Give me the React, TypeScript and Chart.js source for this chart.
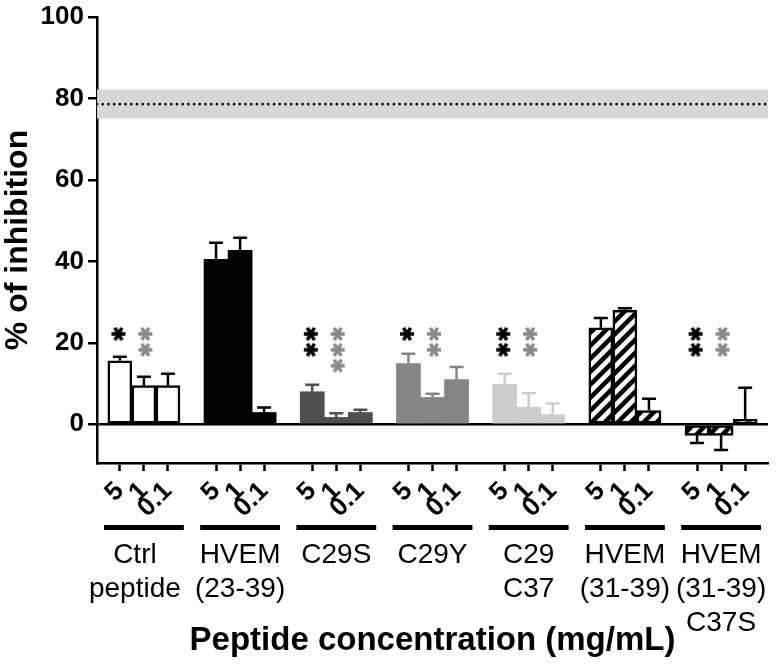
import React, { useEffect, useRef } from "react";
import { Chart, registerables } from "chart.js";
Chart.register(...registerables);

// ---------- data ----------
const groupLabels: string[][] = [
  ["Ctrl", "peptide"],
  ["HVEM", "(23-39)"],
  ["C29S"],
  ["C29Y"],
  ["C29", "C37"],
  ["HVEM", "(31-39)"],
  ["HVEM", "(31-39)", "C37S"],
];
const concLabels = ["5", "1", "0.1"];
const ctrlValues = [15.6, 9.5, 9.5];
const hvem2339Values = [40.5, 42.7, 2.9];
const c29sValues = [8.0, 1.7, 2.9];
const c29yValues = [14.9, 6.6, 11.0];
const c29c37Values = [9.8, 4.2, 2.4];
const hvem3139Values = [23.7, 28.0, 3.4];
const c37sValues = [-2.7, -2.7, 1.2];
const ctrlErr = [1.0, 2.2, 2.9];
const hvem2339Err = [4.1, 3.1, 1.2];
const c29sErr = [1.7, 1.0, 0.7];
const c29yErr = [2.4, 0.9, 3.1];
const c29c37Err = [2.6, 3.4, 2.7];
const hvem3139Err = [2.4, 0.5, 2.9];
const c37sErr = [1.9, 3.6, 7.8];
const blackStarCounts = [1, 0, 2, 1, 2, 0, 2];
const grayStarCounts = [2, 0, 3, 2, 2, 0, 2];
const starLevels = [22.2, 18.3, 14.4];
const refLow = 75.1;
const refHigh = 82.2;
const refMean = 78.6;
const yTickValues = [0, 20, 40, 60, 80, 100];

const allValues = [ctrlValues, hvem2339Values, c29sValues, c29yValues, c29c37Values, hvem3139Values, c37sValues];
const allErrors = [ctrlErr, hvem2339Err, c29sErr, c29yErr, c29c37Err, hvem3139Err, c37sErr];

// ---------- styles ----------
const FONT = "'Liberation Sans', Arial, sans-serif";
const X_MIN = -0.95;
const X_MAX = 26.95;
const SLOT = 4;

function makeHatch(): CanvasPattern | string {
  const s = 13;
  const c = document.createElement("canvas");
  c.width = s;
  c.height = s;
  const g = c.getContext("2d")!;
  g.fillStyle = "#fff";
  g.fillRect(0, 0, s, s);
  g.strokeStyle = "#000";
  g.lineWidth = 4.5;
  g.beginPath();
  for (const k of [0, s, 2 * s]) {
    g.moveTo(-2, k + 2);
    g.lineTo(k + 2, -2);
  }
  g.stroke();
  const p = g.createPattern(c, "repeat");
  return p || "#fff";
}

function makeStar(color: string): HTMLCanvasElement {
  const c = document.createElement("canvas");
  c.width = 16;
  c.height = 16;
  const g = c.getContext("2d")!;
  g.strokeStyle = color;
  g.lineWidth = 3.6;
  g.lineCap = "butt";
  for (let k = 0; k < 3; k++) {
    const a = (k * Math.PI) / 3;
    const dx = 7 * Math.cos(a);
    const dy = 7 * Math.sin(a);
    g.beginPath();
    g.moveTo(8 - dx, 8 - dy);
    g.lineTo(8 + dx, 8 + dy);
    g.stroke();
  }
  return c;
}

export default function App() {
  const ref = useRef<HTMLCanvasElement>(null);
  useEffect(() => {
    document.body.style.margin = "0";
    const hatch = makeHatch();
    const fills: any[] = ["#ffffff", "#000000", "#4f4f4f", "#858585", "#cdcdcd", hatch, hatch];
    const borders = ["#000", "#000", "#4f4f4f", "#858585", "#cdcdcd", "#000", "#000"];
    const borderWidths = [2.5, 0, 0, 0, 0, 2.5, 2.5];
    const errColors = ["#000", "#000", "#4f4f4f", "#858585", "#cdcdcd", "#000", "#000"];

    const barData: { x: number; y: number }[] = [];
    const barBg: any[] = [];
    const barBorder: string[] = [];
    const barBW: number[] = [];
    const flatErr: number[] = [];
    const flatErrColor: string[] = [];
    const positions: number[] = [];
    allValues.forEach((vals, g) => {
      vals.forEach((v, j) => {
        const x = g * SLOT + j;
        positions.push(x);
        barData.push({ x, y: v });
        barBg.push(fills[g]);
        barBorder.push(borders[g]);
        barBW.push(borderWidths[g]);
        flatErr.push(allErrors[g][j]);
        flatErrColor.push(errColors[g]);
      });
    });

    const blackStars: { x: number; y: number }[] = [];
    const grayStars: { x: number; y: number }[] = [];
    blackStarCounts.forEach((n, g) => {
      for (let k = 0; k < n; k++) blackStars.push({ x: g * SLOT - 0.06, y: starLevels[k] });
    });
    grayStarCounts.forEach((n, g) => {
      for (let k = 0; k < n; k++) grayStars.push({ x: g * SLOT + 1.06, y: starLevels[k] });
    });

    const errorBarPlugin = {
      id: "errorBars",
      afterDatasetsDraw(chart: any) {
        const meta = chart.getDatasetMeta(2);
        const ys = chart.scales.y;
        const ctx = chart.ctx;
        ctx.save();
        meta.data.forEach((bar: any, i: number) => {
          const v = barData[i].y;
          const e = flatErr[i];
          const end = v >= 0 ? v + e : v - e;
          const x = bar.x;
          const y0 = ys.getPixelForValue(v);
          const y1 = ys.getPixelForValue(end);
          ctx.strokeStyle = flatErrColor[i];
          ctx.lineWidth = 2.5;
          ctx.beginPath();
          ctx.moveTo(x, y0);
          ctx.lineTo(x, y1);
          ctx.moveTo(x - 7, y1);
          ctx.lineTo(x + 7, y1);
          ctx.stroke();
        });
        ctx.restore();
      },
    };

    const groupLabelPlugin = {
      id: "groupLabels",
      afterDraw(chart: any) {
        const xs = chart.scales.x;
        const ctx = chart.ctx;
        const bottom = chart.chartArea.bottom;
        ctx.save();
        groupLabels.forEach((lines, g) => {
          const cx = xs.getPixelForValue(g * SLOT + 1);
          const half = xs.getPixelForValue(1.66) - xs.getPixelForValue(0);
          ctx.fillStyle = "#000";
          ctx.fillRect(cx - half, bottom + 62, 2 * half, 5);
          ctx.font = `28px ${FONT}`;
          ctx.textAlign = "center";
          ctx.textBaseline = "alphabetic";
          const nudge = g === 0 ? -9 : 0;
          lines.forEach((t, k) => ctx.fillText(t, cx + nudge, bottom + 100 + k * 34));
        });
        ctx.restore();
      },
    };

    const chart = new Chart(ref.current!, {
      type: "bar",
      data: {
        datasets: [
          {
            type: "scatter",
            data: blackStars,
            pointStyle: makeStar("#000") as any,
            pointRadius: 7,
            order: 0,
          } as any,
          {
            type: "scatter",
            data: grayStars,
            pointStyle: makeStar("#8a8a8a") as any,
            pointRadius: 7,
            order: 0,
          } as any,
          {
            type: "bar",
            data: barData,
            backgroundColor: barBg,
            borderColor: barBorder,
            borderWidth: barBW,
            borderSkipped: false,
            barPercentage: 1,
            categoryPercentage: 1,
            order: 2,
          } as any,
          {
            type: "line",
            data: [
              { x: X_MIN, y: refMean },
              { x: X_MAX, y: refMean },
            ],
            borderColor: "#000",
            borderWidth: 2.6,
            borderDash: [0.01, 5.7],
            borderCapStyle: "round",
            pointRadius: 0,
            fill: false,
            order: 8,
          } as any,
          {
            type: "line",
            data: [
              { x: X_MIN, y: refHigh },
              { x: X_MAX, y: refHigh },
            ],
            borderWidth: 0,
            borderColor: "rgba(0,0,0,0)",
            pointRadius: 0,
            fill: false,
            order: 10,
          } as any,
          {
            type: "line",
            data: [
              { x: X_MIN, y: refLow },
              { x: X_MAX, y: refLow },
            ],
            borderWidth: 0,
            borderColor: "rgba(0,0,0,0)",
            backgroundColor: "#d7d7d7",
            pointRadius: 0,
            fill: "-1",
            order: 10,
          } as any,
        ],
      },
      options: {
        animation: false,
        responsive: true,
        maintainAspectRatio: false,
        layout: { padding: { top: 14, right: 5, bottom: 0, left: 0 } },
        plugins: {
          legend: { display: false },
          tooltip: { enabled: false },
        },
        scales: {
          x: {
            type: "linear",
            min: X_MIN,
            max: X_MAX,
            offset: false,
            grid: {
              display: true,
              drawOnChartArea: false,
              offset: false,
              tickLength: 8,
              tickWidth: 2.5,
              tickColor: "#000",
            },
            border: { display: true, color: "#000", width: 2.5 },
            ticks: {
              autoSkip: false,
              minRotation: 45,
              maxRotation: 45,
              padding: 5,
              color: "#000",
              font: { family: FONT, size: 26, weight: "bold" },
              callback: (v: any) => concLabels[Math.round(Number(v)) % SLOT] ?? "",
            },
            afterBuildTicks: (s: any) => {
              s.ticks = positions.map((v) => ({ value: v }));
            },
            afterFit: (s: any) => {
              s.height = 203;
            },
            title: {
              display: true,
              text: "Peptide concentration (mg/mL)",
              color: "#000",
              font: { family: FONT, size: 33, weight: "bold", lineHeight: 1.2 },
              padding: { top: 0, bottom: 5 },
            },
          } as any,
          y: {
            min: -9.5,
            max: 100,
            grid: {
              drawOnChartArea: true,
              color: (c: any) => (c.tick && c.tick.value === 0 ? "#000" : "rgba(0,0,0,0)"),
              lineWidth: 2.5,
              tickColor: "#000",
              tickWidth: 2.5,
              tickLength: 9,
            },
            border: { display: true, color: "#000", width: 2.5 },
            ticks: {
              padding: 4,
              color: "#000",
              font: { family: FONT, size: 26, weight: "bold", lineHeight: 1 },
              callback: (v: any) => String(v),
            },
            afterBuildTicks: (s: any) => {
              s.ticks = yTickValues.map((v) => ({ value: v }));
            },
            afterFit: (s: any) => {
              s.width = 97;
            },
            title: {
              display: true,
              text: "% of inhibition",
              color: "#000",
              font: { family: FONT, size: 32, weight: "bold", lineHeight: 1 },
              padding: { top: 2, bottom: 0 },
            },
          } as any,
        },
      },
      plugins: [errorBarPlugin, groupLabelPlugin],
    } as any);
    return () => chart.destroy();
  }, []);
  return (
    <div style={{ width: 776, height: 666, position: "relative" }}>
      <canvas ref={ref} />
    </div>
  );
}
